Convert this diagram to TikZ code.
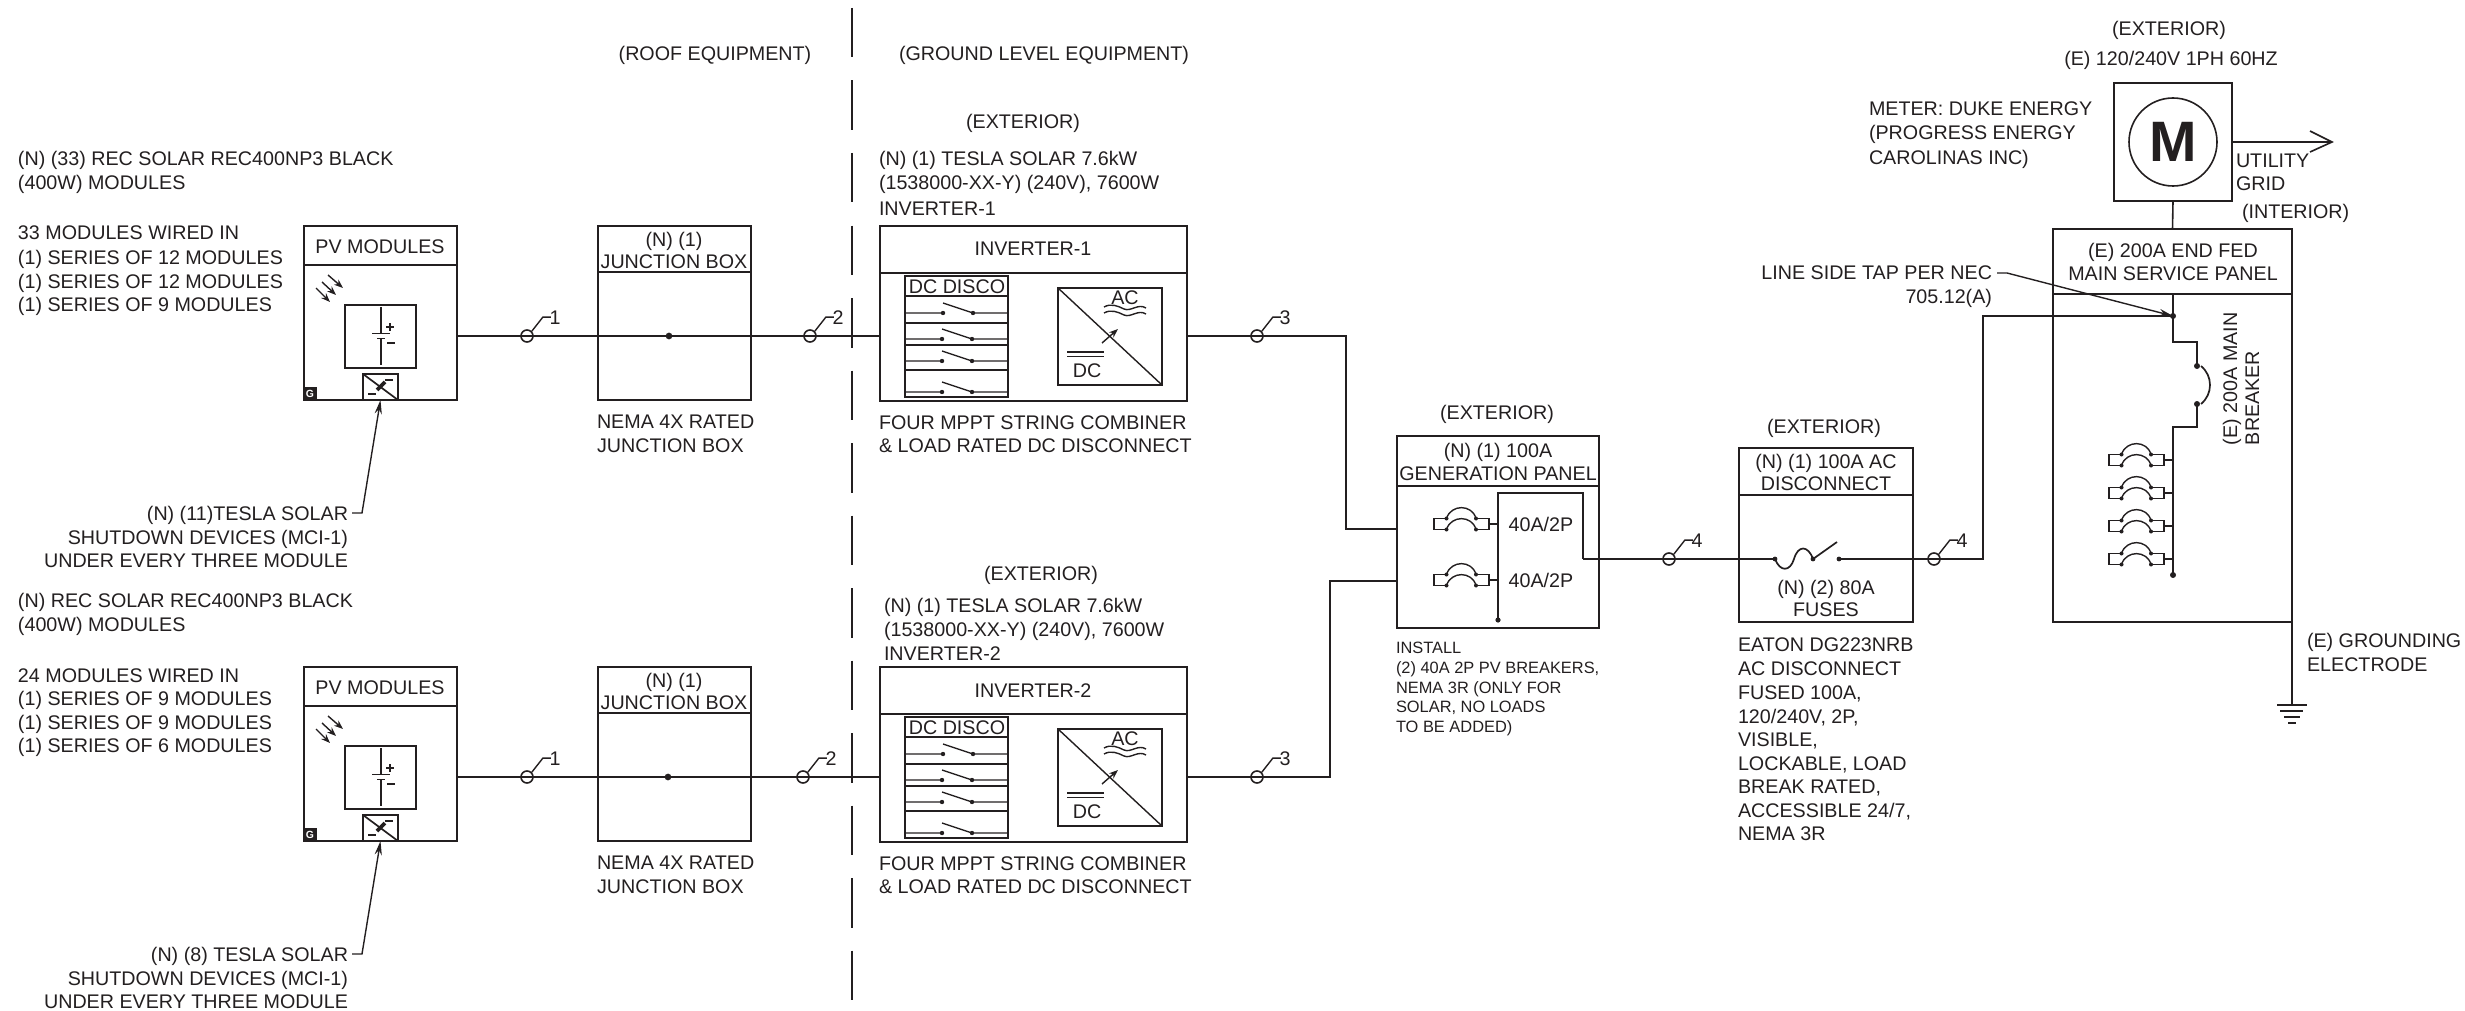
\documentclass[tikz,border=0pt]{standalone}
\usepackage{fontspec}
\setmainfont{Liberation Sans}
\usetikzlibrary{arrows.meta,fit}
\definecolor{ink}{HTML}{231F20}
\newcommand{\fnorm}{\fontsize{9.85}{11.5}\selectfont}
\newcommand{\fsmall}{\fontsize{8.2}{10}\selectfont}
\tikzset{
  txtl/.style={inner sep=0pt,outer sep=0pt,anchor=west,text height=7pt,text depth=0pt,text=ink,font=\fnorm},
  txtc/.style={txtl,anchor=center},
  txtr/.style={txtl,anchor=east},
  txts/.style={txtl,text height=5.8pt,font=\fsmall},
  boxs/.style={draw=ink,line width=.85pt,inner sep=0pt,outer sep=0pt},
  part/.style={draw=ink,line width=.85pt},
  wire/.style={draw=ink,line width=.8pt},
  thinp/.style={draw=ink,line width=.7pt},
  ring/.style={circle,draw=ink,line width=.8pt,inner sep=0pt,minimum size=6pt},
  lead/.style={draw=ink,line width=.7pt},
  tipf/.style={-{Stealth[length=7pt,width=3.6pt]}},
  tips/.style={-{Stealth[length=4.5pt,width=3.4pt]}},
}
% rectangle node from two corners
\newcommand{\bx}[5]{\path (#2,#3) coordinate (#1-nw) (#4,#5) coordinate (#1-se);
  \node[boxs,fit=(#1-nw)(#1-se)] (#1) {};}
% dot
\newcommand{\dt}[2]{\fill[ink] (#1,#2) circle[radius=1.5pt];}
% cable tag
\newcommand{\tagc}[4]{\node[ring] (#1) at (#2,#3) {};
  \draw[thinp] (#1.north east) -- ++(11,-14) coordinate (#1-e) -- ++(8,0);
  \node[txtc] (#1-l) at (#2+28,#3-19) {#4};}
% breaker
\newcommand{\brk}[2]{\begin{scope}[shift={(#1,#2)}]
  \draw[thinp] (12.5,-5.5) -- (0,-5.5) -- (0,5.5) -- (12.5,5.5);
  \draw[thinp] (42,-5.5) -- (55,-5.5) -- (55,5.5) -- (42,5.5);
  \draw[thinp] (55,0) -- (64,0);
  \draw[thinp] (12.5,-5.5) .. controls (17,-20) and (38,-20) .. (42,-5.5);
  \draw[thinp] (12.5,5.5) .. controls (17,-9) and (38,-9) .. (42,5.5);
  \fill[ink] (12.5,-5.5) circle[radius=1pt] (12.5,5.5) circle[radius=1pt] (42,-5.5) circle[radius=1pt] (42,5.5) circle[radius=1pt];
  \end{scope}}
% PV module block
\newcommand{\pvb}[2]{\begin{scope}[shift={(0,#2)}]
  \bx{#1}{304}{226}{457}{400}
  \draw[part,line width=1.2pt] (304,265) -- (457,265);
  \node[txtc] (#1-t) at (380,246) {PV MODULES};
  \foreach \a/\b/\c/\d in {328/275/343/288,322/282/336/295,316/288/330/302}
    \draw[thinp,tips] (\a,\b) -- (\c,\d);
  \bx{#1-b}{345}{305}{416}{368}
  \draw[thinp] (381,307) -- (381,333) (372,333.5) -- (390,333.5) (377,338.5) -- (385,338.5) (381,338.5) -- (381,365);
  \draw[ink,line width=1pt] (386,327) -- (394,327) (390,323) -- (390,331) (387,343) -- (395,343);
  \bx{#1-m}{363}{374}{398}{400}
  \draw[thinp,line width=.85pt] (363,374) -- (398,400);
  \draw[ink,line width=1.3pt] (368,394) -- (376,394) (385,380) -- (393,380);
  \draw[ink,line width=1.8pt] (377,390) -- (385,382);
  \path (304,388) coordinate (#1-g-nw) (316,400) coordinate (#1-g-se);
  \node[boxs,fill=ink,fit=(#1-g-nw)(#1-g-se)] (#1-g) {};
  \node[txtc,text=white,text height=3.5pt,font=\fontsize{5.2}{6}\selectfont\bfseries] (#1-gt) at (310,394) {G};
  \end{scope}}
% junction box
\newcommand{\jbx}[2]{\begin{scope}[shift={(0,#2)}]
  \bx{#1}{598}{226}{751}{400}
  \draw[part] (598,272) -- (751,272);
  \node[txtc] (#1-a) at (674,239) {(N) (1)};
  \node[txtc] (#1-b) at (674,261) {JUNCTION BOX};
  \node[txtl] (#1-c) at (597,421) {NEMA 4X RATED};
  \node[txtl] (#1-d) at (597,445) {JUNCTION BOX};
  \end{scope}}
% inverter
\newcommand{\swt}[3]{\draw[thinp] (905,#3) -- (#1,#3) (#2,#3) -- (1008,#3) (#1,#3-10) -- (#2,#3);
  \fill[ink] (#1,#3) circle[radius=1.1pt] (#2,#3) circle[radius=1.1pt];}
\newcommand{\inv}[3]{\begin{scope}[shift={(0,#2)}]
  \bx{#1}{880}{226}{1187}{401}
  \draw[part] (880,273) -- (1187,273);
  \node[txtc] (#1-t) at (1033,249) {#3};
  \bx{#1-d}{905}{276}{1008}{397}
  \draw[thinp] (905,296) -- (1008,296) (905,323) -- (1008,323) (905,345) -- (1008,345) (905,370) -- (1008,370);
  \node[txtc] (#1-dt) at (957,286) {DC DISCO};
  \swt{943}{973}{313}\swt{942}{972}{339}\swt{942}{972}{361}\swt{942}{972}{392}
  \bx{#1-c}{1058}{288}{1162}{385}
  \draw[thinp] (1058,288) -- (1162,385);
  \node[txtc] (#1-ac) at (1125,297) {AC};
  \foreach \o in {0,6}
    \draw[thinp,yshift=-\o*.5pt] (1104,307) .. controls (1111,303) and (1118,306) .. (1124,309) .. controls (1131,312) and (1138,303) .. (1146,308);
  \draw[thinp,tips] (1102,343) -- (1118,329);
  \draw[thinp] (1067,352) -- (1104,352) (1067,356.5) -- (1104,356.5);
  \node[txtc] (#1-dc) at (1087,370) {DC};
  \node[txtl] (#1-e) at (879,422) {FOUR MPPT STRING COMBINER};
  \node[txtl] (#1-f) at (879,445) {\& LOAD RATED DC DISCONNECT};
  \end{scope}}
\begin{document}
\begin{tikzpicture}[x=.5pt,y=-.5pt]
\useasboundingbox (0,0) rectangle (2465,1011);
% division line
\draw[ink,line width=.85pt,dash pattern=on 24.75pt off 11.5pt] (852,8) coordinate (divtop) -- (852,1000) coordinate (divbot);
\node[txtc] (roof) at (715,54) {(ROOF EQUIPMENT)};
\node[txtl] (ground) at (899,54) {(GROUND LEVEL EQUIPMENT)};
% blocks
\pvb{pva}{0}\pvb{pvb}{441}
\jbx{jba}{0}\jbx{jbb}{441}
\inv{inva}{0}{INVERTER-1}\inv{invb}{441}{INVERTER-2}
% left notes, row 1
\node[txtl] (n1) at (18,159) {(N) (33) REC SOLAR REC400NP3 BLACK};
\node[txtl] (n2) at (18,183) {(400W) MODULES};
\node[txtl] (n3) at (18,233) {33 MODULES WIRED IN};
\node[txtl] (n4) at (18,257) {(1) SERIES OF 12 MODULES};
\node[txtl] (n5) at (18,281) {(1) SERIES OF 12 MODULES};
\node[txtl] (n6) at (18,304) {(1) SERIES OF 9 MODULES};
\node[txtr] (sa1) at (348,513) {(N) (11)TESLA SOLAR};
\node[txtr] (sa2) at (348,537) {SHUTDOWN DEVICES (MCI-1)};
\node[txtr] (sa3) at (348,560) {UNDER EVERY THREE MODULE};
% left notes, row 2
\node[txtl] (m1) at (18,600) {(N) REC SOLAR REC400NP3 BLACK};
\node[txtl] (m2) at (18,624) {(400W) MODULES};
\node[txtl] (m3) at (18,675) {24 MODULES WIRED IN};
\node[txtl] (m4) at (18,698) {(1) SERIES OF 9 MODULES};
\node[txtl] (m5) at (18,722) {(1) SERIES OF 9 MODULES};
\node[txtl] (m6) at (18,745) {(1) SERIES OF 6 MODULES};
\node[txtr] (sb1) at (348,954) {(N) (8) TESLA SOLAR};
\node[txtr] (sb2) at (348,978) {SHUTDOWN DEVICES (MCI-1)};
\node[txtr] (sb3) at (348,1001) {UNDER EVERY THREE MODULE};
% shutdown leaders
\coordinate (ka) at (362,513);\coordinate (kb) at (362,954);
\draw[lead,tipf] (sa1.east) ++(4,0) -- (ka) -- (pva-m.south);
\draw[lead,tipf] (sb1.east) ++(4,0) -- (kb) -- (pvb-m.south);
% inverter notes
\node[txtc] (ea) at (1023,122) {(EXTERIOR)};
\node[txtl] (ia1) at (879,159) {(N) (1) TESLA SOLAR 7.6kW};
\node[txtl] (ia2) at (879,183) {(1538000-XX-Y) (240V), 7600W};
\node[txtl] (ia3) at (879,208) {INVERTER-1};
\node[txtc] (eb) at (1041,573) {(EXTERIOR)};
\node[txtl] (ib1) at (884,605) {(N) (1) TESLA SOLAR 7.6kW};
\node[txtl] (ib2) at (884,629) {(1538000-XX-Y) (240V), 7600W};
\node[txtl] (ib3) at (884,653) {INVERTER-2};
% rows
\coordinate (ra) at (0,336);\coordinate (rb) at (0,777);
\draw[wire] (pva.east |- ra) -- (inva.west |- ra);
\draw[wire] (pvb.east |- rb) -- (invb.west |- rb);
\draw[ink,line width=.7pt,fill=ink] (669,336) circle[radius=1.3pt] (668,777) circle[radius=1.3pt];
\tagc{ta1}{527}{336}{1}\tagc{ta2}{810}{336}{2}\tagc{ta3}{1257}{336}{3}
\tagc{tb1}{527}{777}{1}\tagc{tb2}{803}{777}{2}\tagc{tb3}{1257}{777}{3}
% generation panel
\bx{gp}{1397}{436}{1599}{628}
\draw[part] (1397,486) -- (1599,486);
\node[txtc] (gp1) at (1498,450) {(N) (1) 100A};
\node[txtc] (gp2) at (1498,473) {GENERATION PANEL};
\node[txtc] (gpe) at (1497,412) {(EXTERIOR)};
\coordinate (ya) at (1346,529);\coordinate (yb) at (1330,581);
\draw[wire] (inva.east |- ra) -- (ra -| ya) -- (ya) -- (gp.west |- ya);
\draw[wire] (invb.east |- rb) -- (rb -| yb) -- (yb) -- (gp.west |- yb);
\brk{1434}{524}\brk{1434}{580}
\node[txtc] (ba1) at (1541,524) {40A/2P};
\node[txtc] (ba2) at (1541,580) {40A/2P};
\coordinate (bust) at (1498,493);\coordinate (busb) at (1498,620);
\coordinate (busr) at (1583,493);\coordinate (r4) at (1583,559);
\draw[part] (busb) -- (bust) -- (busr) -- (r4);
\fill[ink] (1498,620) circle[radius=1.3pt];
\node[txts] (g1) at (1396,648) {INSTALL};
\node[txts] (g2) at (1396,668) {(2) 40A 2P PV BREAKERS,};
\node[txts] (g3) at (1396,688) {NEMA 3R (ONLY FOR};
\node[txts] (g4) at (1396,707) {SOLAR, NO LOADS};
\node[txts] (g5) at (1396,727) {TO BE ADDED)};
% AC disconnect
\bx{ad}{1739}{448}{1913}{622}
\draw[part] (1739,495) -- (1913,495);
\node[txtc] (ad1) at (1826,461) {(N) (1) 100A AC};
\node[txtc] (ad2) at (1826,483) {DISCONNECT};
\node[txtc] (ade) at (1824,426) {(EXTERIOR)};
\node[txtc] (ad3) at (1826,587) {(N) (2) 80A};
\node[txtc] (ad4) at (1826,609) {FUSES};
\coordinate (fa) at (1775,559);\coordinate (fb) at (1813,559);\coordinate (fc) at (1837,542);\coordinate (fd) at (1839,559);
\draw[part] (r4) -- (fa) .. controls (1780,572) and (1790,572) .. (1794,559) .. controls (1798,545) and (1808,545) .. (fb) -- (fc);
\fill[ink] (1775,559) circle[radius=1.2pt] (1813,559) circle[radius=1.2pt] (1839,559) circle[radius=1.2pt];
\coordinate (tp) at (1983,559);\coordinate (tq) at (1983,316);\coordinate (tap) at (2173,316);
\draw[part] (fd) -- (tp) -- (tq) -- (tap);
\tagc{tc1}{1669}{559}{4}\tagc{tc2}{1934}{559}{4}
\node[txtl] (e1) at (1738,644) {EATON DG223NRB};
\node[txtl] (e2) at (1738,668) {AC DISCONNECT};
\node[txtl] (e3) at (1738,692) {FUSED 100A,};
\node[txtl] (e4) at (1738,716) {120/240V, 2P,};
\node[txtl] (e5) at (1738,739) {VISIBLE,};
\node[txtl] (e6) at (1738,763) {LOCKABLE, LOAD};
\node[txtl] (e7) at (1738,786) {BREAK RATED,};
\node[txtl] (e8) at (1738,810) {ACCESSIBLE 24/7,};
\node[txtl] (e9) at (1738,833) {NEMA 3R};
% meter
\node[txtc] (x1) at (2169,29) {(EXTERIOR)};
\node[txtc] (x2) at (2171,59) {(E) 120/240V 1PH 60HZ};
\node[txtl] (x3) at (1869,109) {METER: DUKE ENERGY};
\node[txtl] (x4) at (1869,133) {(PROGRESS ENERGY};
\node[txtl] (x5) at (1869,157) {CAROLINAS INC)};
\bx{mb}{2114}{83}{2232}{201}
\node[circle,draw=ink,line width=.8pt,minimum size=44pt,inner sep=0pt,outer sep=0pt] (mc) at (2173,142) {};
\node[inner sep=0pt,text=ink,font=\fontsize{28.5}{30}\selectfont\bfseries] (ml) at (2173,142) {M};
\coordinate (gridend) at (2332,142);
\draw[wire] (mb.east) -- (gridend) (2310,131) -- (gridend) -- (2310,152);
\node[txtl] (u1) at (2236,161) {UTILITY};
\node[txtl] (u2) at (2236,184) {GRID};
\node[txtl] (u3) at (2242,212) {(INTERIOR)};
% main panel
\bx{mp}{2053}{229}{2292}{622}
\draw[part] (2053,294) -- (2292,294);
\draw[wire] (mb.south) -- (mp.north);
\node[txtc] (mp1) at (2173,250) {(E) 200A END FED};
\node[txtc] (mp2) at (2173,273) {MAIN SERVICE PANEL};
\node[txtr] (ls1) at (1992,272) {LINE SIDE TAP PER NEC};
\node[txtr] (ls2) at (1992,296) {705.12(A)};
\coordinate (lsk) at (2007,273);
\draw[lead,tipf] (ls1.east) ++(5,1) -- (lsk) -- (tap);
\coordinate (mbr1) at (2173,294);\coordinate (mbr2) at (2173,342);\coordinate (mbr3) at (2197,342);\coordinate (mbr4) at (2197,366);
\coordinate (mbr5) at (2197,404);\coordinate (mbr6) at (2197,427);\coordinate (mbr7) at (2173,427);\coordinate (mbr8) at (2173,575);
\draw[part] (mbr1) -- (mbr2) -- (mbr3) -- (mbr4);
\draw[part] (mbr5) -- (mbr6) -- (mbr7) -- (mbr8);
\draw[part] (2201,366) .. controls (2213,376) and (2213,394) .. (2201,404);
\dt{2173}{316}\dt{2197}{366}\dt{2197}{404}\dt{2173}{575}
\brk{2109}{460}\brk{2109}{493}\brk{2109}{526}\brk{2109}{559}
\node[txtl,rotate=90] (mm1) at (2230,445) {(E) 200A MAIN};
\node[txtl,rotate=90] (mm2) at (2252,445) {BREAKER};
% ground
\coordinate (gnd) at (2292,705);
\draw[part] (mp.south east) -- (gnd);
\draw[part,line width=1pt] (2277,705) -- (2307,705) (2280,711) -- (2303,711) (2284,717) -- (2300,717) (2288,723) -- (2296,723);
\node[txtl] (gr1) at (2307,640) {(E) GROUNDING};
\node[txtl] (gr2) at (2307,664) {ELECTRODE};
\end{tikzpicture}
\end{document}
